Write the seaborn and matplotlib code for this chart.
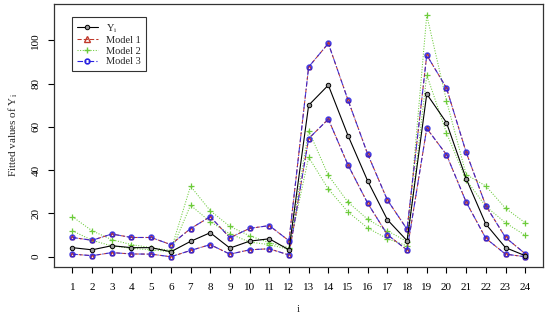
import numpy as np
import pandas as pd
import matplotlib
matplotlib.use("Agg")
import matplotlib.pyplot as plt
import seaborn as sns
from matplotlib.lines import Line2D

sns.set_style("white")
plt.rcParams['font.family'] = ['Liberation Serif', 'DejaVu Serif']
plt.rcParams['mathtext.fontset'] = 'custom'
plt.rcParams['mathtext.rm'] = 'Liberation Serif'
plt.rcParams['mathtext.it'] = 'Liberation Serif:italic'

idx = list(range(1, 25))
y_obs = [4.2, 3.2, 5.1, 4.2, 4.2, 2.3, 7.1, 11.1, 4.0, 7.2, 8.3, 3.2,
         70.0, 79.3, 56.0, 35.0, 17.1, 7.4, 75.2, 62.0, 36.1, 15.1, 4.2, 0.5]
m3_upper = [8.9, 7.6, 10.5, 8.9, 8.9, 5.6, 13.0, 18.5, 8.8, 13.1, 14.4, 7.4,
            87.7, 98.6, 72.4, 47.4, 26.2, 12.7, 93.2, 78.0, 48.3, 23.6, 8.9, 1.4]
m3_lower = [1.2, 0.5, 1.9, 1.3, 1.2, 0.0, 2.9, 5.6, 1.2, 3.2, 3.7, 0.8,
            54.6, 63.6, 42.4, 24.7, 10.2, 3.1, 59.3, 47.2, 25.3, 8.5, 1.2, 0.0]
m1_upper = m3_upper
m1_lower = m3_lower
m2_upper = [18.5, 12.0, 7.9, 5.6, 4.2, 2.9, 32.6, 21.3, 14.0, 9.7, 6.5, 4.2,
            58.3, 37.6, 25.2, 17.3, 12.0, 7.0, 111.6, 72.2, 38.0, 32.7, 22.4, 15.7]
m2_lower = [12.0, 7.6, 5.0, 3.9, 3.2, 2.3, 23.8, 16.2, 10.6, 6.8, 5.6, 3.4,
            46.0, 31.3, 20.7, 13.3, 8.3, 5.0, 84.0, 57.3, 35.5, 23.3, 15.7, 9.9]

labels = ['$\\mathregular{Y_i}$', 'Model 1', 'Model 2', 'Model 3']
c_y = 'black'
c_m1 = '#C0392B'
c_m2 = '#6CCB3A'
c_m3 = '#2A22E0'

fig = plt.figure(figsize=(5.5, 3.2), dpi=100)
ax = fig.add_axes([54.3/550, 1-266.7/320, 489/550, 262.7/320])

def draw(vals, color, ls, marker, ms, mew, lw, mfc='none', z=2, alpha=1.0):
    df = pd.DataFrame({'i': idx, 'v': vals})
    sns.lineplot(data=df, x='i', y='v', ax=ax, color=color, linestyle=ls,
                 marker=marker, markersize=ms, markeredgewidth=mew,
                 markerfacecolor=mfc, markeredgecolor=color, linewidth=lw,
                 zorder=z, legend=False, alpha=alpha)

for v in (m2_upper, m2_lower):
    draw(v, c_m2, (0, (1, 1.5)), '+', 5, 0.9, 0.75, z=2)
for v in (m1_upper, m1_lower):
    draw(v, c_m1, (0, (4, 2)), '^', 3.0, 1.0, 0.75, z=3)
for v in (m3_upper, m3_lower):
    draw(v, c_m3, (0, (5, 2, 1, 2)), 'o', 3.4, 1.2, 0.8, z=4, alpha=0.85)
draw(y_obs, c_y, '-', 'o', 3.2, 0.7, 0.8, mfc='#999999', z=5)

ax.set_xlim(1 - 23*0.04, 24 + 23*0.04)
ax.set_ylim(-4.6, 116.8)
ax.set_xticks(idx)
ax.set_xticklabels([str(i) for i in idx], fontsize=8)
ax.set_yticks([0, 20, 40, 60, 80, 100])
ax.set_yticklabels(['0', '20', '40', '60', '80', '100'], fontsize=8,
                   rotation=90, va='center')
ax.tick_params(axis='both', direction='out', length=4, width=0.8,
               bottom=True, left=True, colors='black')
ax.tick_params(axis='x', pad=8)
ax.tick_params(axis='y', pad=6)
for s in ax.spines.values():
    s.set_color('#333333')
    s.set_linewidth(0.9)
ax.set_xlabel('i', fontsize=8, labelpad=9)
ax.set_ylabel('Fitted values of $\\mathregular{Y_i}$', fontsize=8, labelpad=8)

handles = [
    Line2D([], [], color=c_y, ls='-', marker='o', ms=3.2, mfc='#999999', mew=0.7, lw=0.8),
    Line2D([], [], color=c_m1, ls=(0, (4, 2)), marker='^', ms=3.8, mfc='none', lw=0.75),
    Line2D([], [], color=c_m2, ls=(0, (1, 1.5)), marker='+', ms=5, lw=0.75),
    Line2D([], [], color=c_m3, ls=(0, (5, 2, 1, 2)), marker='o', ms=3.4, mfc='none', mew=1.2, lw=0.8),
]
leg = ax.legend(handles, labels, loc='upper left', bbox_to_anchor=(0.0368, 0.949),
                fontsize=7.5, frameon=True, fancybox=False, edgecolor='black',
                borderpad=0.45, handlelength=2.0, handletextpad=0.8,
                labelspacing=0.12, borderaxespad=0)
leg.get_frame().set_linewidth(0.8)

fig.savefig('out.png', dpi=100)
